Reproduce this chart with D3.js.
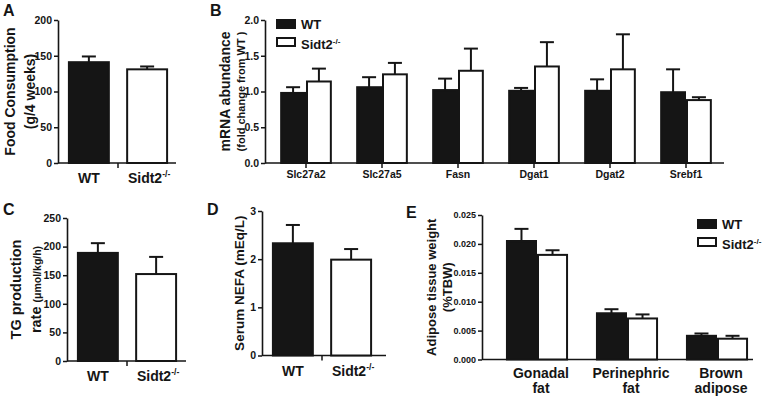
<!DOCTYPE html>
<html>
<head>
<meta charset="utf-8">
<script src="https://cdn.jsdelivr.net/npm/d3@7"></script>
<style>
  body { margin: 0; background: #fff; }
  text { font-family: "Liberation Sans", Arial, sans-serif; font-weight: bold; fill: #151515; }
</style>
</head>
<body>
<svg id="fig"></svg>
<script>
const W = 766;
const H = 397;

// panel A, C, D: two genotypes
const genotypes = ["WT", "Sidt2"];
const foodMean = [141, 131];
const foodErr = [8, 4];
const tgMean = [189, 152];
const tgErr = [17, 30];
const nefaMean = [2.33, 1.99];
const nefaErr = [0.38, 0.22];

// panel B
const genes = ["Slc27a2", "Slc27a5", "Fasn", "Dgat1", "Dgat2", "Srebf1"];
const mrnaWT = [0.98, 1.06, 1.02, 1.01, 1.01, 0.99];
const mrnaWTErr = [0.08, 0.14, 0.16, 0.04, 0.16, 0.32];
const mrnaKO = [1.14, 1.24, 1.29, 1.35, 1.31, 0.88];
const mrnaKOErr = [0.18, 0.16, 0.31, 0.34, 0.49, 0.04];

// panel E
const tissues = [["Gonadal", "fat"], ["Perinephric", "fat"], ["Brown", "adipose"]];
const adiposeWT = [0.0205, 0.0080, 0.0041];
const adiposeWTErr = [0.0021, 0.0007, 0.0004];
const adiposeKO = [0.0181, 0.0071, 0.0036];
const adiposeKOErr = [0.0008, 0.0007, 0.0005];

const INK = "#151515";
const svg = d3.select("#fig").attr("width", W).attr("height", H);

function sidtLabel(sel, size) {
	sel.append("tspan").text("Sidt2");
	sel.append("tspan").text("-/-").attr("font-size", size * 0.62).attr("dy", -size * 0.4);
}

function yAxis(g, p, y) {
	const ax = g.append("g")
		.attr("transform", `translate(${p.x0},0)`)
		.call(d3.axisLeft(y).tickValues(p.ticks).tickFormat(p.fmt).tickSize(4).tickSizeOuter(0).tickPadding(2));
	ax.select(".domain").attr("stroke", INK).attr("stroke-width", 1.6);
	ax.selectAll(".tick line").attr("stroke", INK).attr("stroke-width", 1.5);
	ax.selectAll(".tick text").attr("font-size", p.tickSize || 10.5).attr("fill", INK)
		.attr("font-family", "Liberation Sans, Arial, sans-serif").attr("font-weight", "bold");
	g.append("line")
		.attr("x1", p.x0).attr("x2", p.xEnd)
		.attr("y1", y(0)).attr("y2", y(0))
		.attr("stroke", INK).attr("stroke-width", 1.6);
}

function bar(g, x, w, y, v, e, black) {
	g.append("rect")
		.attr("x", x + 1).attr("width", w - 2)
		.attr("y", y(v)).attr("height", y(0) - y(v))
		.attr("fill", black ? INK : "#fff")
		.attr("stroke", INK).attr("stroke-width", 2);
	const cx = x + w / 2;
	g.append("line")
		.attr("x1", cx).attr("x2", cx)
		.attr("y1", y(v)).attr("y2", y(v + e))
		.attr("stroke", INK).attr("stroke-width", 2);
	g.append("line")
		.attr("x1", cx - 7).attr("x2", cx + 7)
		.attr("y1", y(v + e)).attr("y2", y(v + e))
		.attr("stroke", INK).attr("stroke-width", 2);
}

function title(g, cy, lines) {
	lines.forEach(l => {
		const t = g.append("text")
			.attr("transform", `translate(${l.x},${cy}) rotate(-90)`)
			.attr("text-anchor", "middle");
		l.parts.forEach(part => {
			t.append("tspan").text(part.text).attr("font-size", part.size);
		});
	});
}

function panelLetter(x, y, s) {
	svg.append("text").attr("x", x).attr("y", y).attr("font-size", 16).text(s);
}

// two-bar panels (A, C, D)
function twoBarPanel(p) {
	const g = svg.append("g");
	const y = d3.scaleLinear(p.domain, [p.yBot, p.yTop]);
	const x = d3.scaleBand(genotypes, [p.x0, p.x0 + 120]).paddingInner(0.28).paddingOuter(0.17);
	yAxis(g, p, y);
	genotypes.forEach((k, i) => bar(g, x(k), x.bandwidth(), y, p.mean[i], p.err[i], i === 0));
	const mid = (x(genotypes[0]) + x.bandwidth() + x(genotypes[1])) / 2;
	g.append("line").attr("x1", mid).attr("x2", mid)
		.attr("y1", y(0)).attr("y2", y(0) + 5)
		.attr("stroke", INK).attr("stroke-width", 1.5);
	g.append("text").attr("x", x(genotypes[0]) + x.bandwidth() / 2).attr("y", y(0) + 20)
		.attr("text-anchor", "middle").attr("font-size", 14).text("WT");
	g.append("text").attr("x", x(genotypes[1]) + x.bandwidth() / 2 + 2).attr("y", y(0) + 20)
		.attr("text-anchor", "middle").attr("font-size", 14).call(s => sidtLabel(s, 14));
	title(g, (p.yTop + p.yBot) / 2, p.title);
}

twoBarPanel({
	x0: 58, xEnd: 176, yTop: 20, yBot: 163, domain: [0, 200],
	ticks: [0, 50, 100, 150, 200], fmt: d3.format("d"),
	mean: foodMean, err: foodErr,
	title: [
		{ x: 15, parts: [{ text: "Food Consumption", size: 14 }] },
		{ x: 35, parts: [{ text: "(g/4 weeks)", size: 14 }] },
	],
});

twoBarPanel({
	x0: 67, xEnd: 186, yTop: 218, yBot: 361, domain: [0, 250],
	ticks: [0, 50, 100, 150, 200, 250], fmt: d3.format("d"),
	mean: tgMean, err: tgErr,
	title: [
		{ x: 21, parts: [{ text: "TG production", size: 14.5 }] },
		{ x: 41, parts: [{ text: "rate  ", size: 14.5 }, { text: "(\u03bcmol/kg/h)", size: 10.5 }] },
	],
});

twoBarPanel({
	x0: 262, xEnd: 386, yTop: 211, yBot: 355.5, domain: [0, 3],
	ticks: [0, 1, 2, 3], fmt: d3.format("d"),
	mean: nefaMean, err: nefaErr,
	title: [
		{ x: 244, parts: [{ text: "Serum NEFA (mEq/L)", size: 13.5 }] },
	],
});

// grouped panels (B, E)
function groupedPanel(p) {
	const g = svg.append("g");
	const y = d3.scaleLinear(p.domain, [p.yBot, p.yTop]);
	const x = d3.scaleBand(p.cats, p.range).paddingInner(p.padI).paddingOuter(p.padI / 2);
	const half = x.bandwidth() / 2;
	yAxis(g, p, y);
	p.cats.forEach((c, i) => {
		bar(g, x(c), half, y, p.wt[i], p.wtErr[i], true);
		bar(g, x(c) + half, half, y, p.ko[i], p.koErr[i], false);
		if (p.catTicks) {
			g.append("line").attr("x1", x(c) + half).attr("x2", x(c) + half)
				.attr("y1", y(0)).attr("y2", y(0) + 5)
				.attr("stroke", INK).attr("stroke-width", 1.5);
		}
	});
	p.drawLabels(g, x, y);
	title(g, (p.yTop + p.yBot) / 2, p.title);
	// legend
	const lg = g.append("g").attr("transform", `translate(${p.legend[0]},${p.legend[1]})`);
	[0, 1].forEach(i => {
		lg.append("rect").attr("x", 1).attr("y", i * 18 + 1).attr("width", 18).attr("height", 8)
			.attr("fill", i === 0 ? INK : "#fff").attr("stroke", INK).attr("stroke-width", 2);
		const t = lg.append("text").attr("x", 25).attr("y", i * 18 + 10).attr("font-size", 13);
		if (i === 0) t.text("WT");
		else t.attr("y", i * 18 + 12).call(s => sidtLabel(s, 13));
	});
}

groupedPanel({
	x0: 265, xEnd: 724, yTop: 20, yBot: 163, domain: [0, 2],
	ticks: [0, 0.5, 1, 1.5, 2], fmt: d3.format(".1f"),
	cats: genes, range: [268, 724], padI: 0.32, catTicks: true,
	wt: mrnaWT, wtErr: mrnaWTErr, ko: mrnaKO, koErr: mrnaKOErr,
	legend: [276, 19],
	title: [
		{ x: 230, parts: [{ text: "mRNA abundance", size: 14 }] },
		{ x: 245, parts: [{ text: "(fold change from WT )", size: 11 }] },
	],
	drawLabels: (g, x, y) => {
		genes.forEach(c => {
			g.append("text").attr("x", x(c) + x.bandwidth() / 2).attr("y", y(0) + 15)
				.attr("text-anchor", "middle").attr("font-size", 10.5).text(c);
		});
	},
});

groupedPanel({
	x0: 482, xEnd: 753, yTop: 215, yBot: 359.5, domain: [0, 0.025],
	ticks: [0, 0.005, 0.01, 0.015, 0.02, 0.025], fmt: d3.format(".3f"), tickSize: 9,
	cats: tissues.map(t => t.join(" ")), range: [492, 762], padI: 0.31, catTicks: false,
	wt: adiposeWT, wtErr: adiposeWTErr, ko: adiposeKO, koErr: adiposeKOErr,
	legend: [697, 219],
	title: [
		{ x: 436, parts: [{ text: "Adipose tissue weight", size: 13 }] },
		{ x: 452, parts: [{ text: "(%TBW)", size: 13 }] },
	],
	drawLabels: (g, x, y) => {
		tissues.forEach((t, i) => {
			const cx = x(t.join(" ")) + x.bandwidth() / 2 + 4;
			const txt = g.append("text").attr("text-anchor", "middle").attr("font-size", 14)
				.attr("font-weight", i === 0 ? "normal" : "bold");
			t.forEach((line, j) => {
				txt.append("tspan").attr("x", cx).attr("y", y(0) + 18 + j * 15).text(line);
			});
		});
	},
});

panelLetter(3, 16, "A");
panelLetter(210, 16, "B");
panelLetter(3, 215, "C");
panelLetter(207, 215, "D");
panelLetter(406, 218, "E");
</script>
</body>
</html>
